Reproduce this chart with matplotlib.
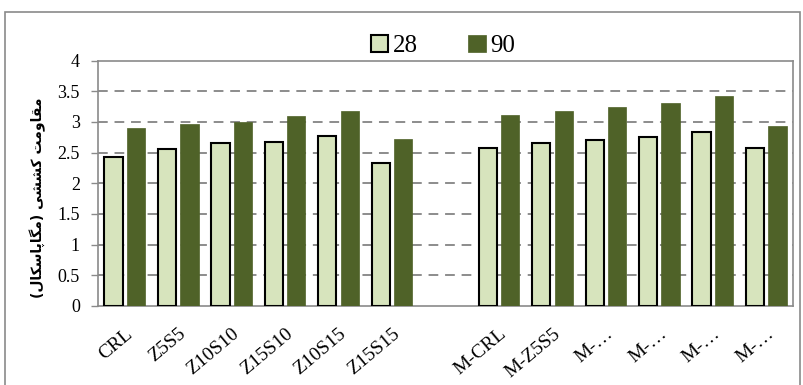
import numpy as np
import matplotlib.pyplot as plt
from matplotlib.patches import Rectangle
from matplotlib.transforms import ScaledTranslation

# tensile strength (MPa) at 28 and 90 days
mixes = ['CRL', 'Z5S5', 'Z10S10', 'Z15S10', 'Z10S15', 'Z15S15',
         'M-CRL', 'M-Z5S5', 'M-…', 'M-…', 'M-…', 'M-…']
day28 = [2.42, 2.55, 2.66, 2.68, 2.77, 2.33, 2.58, 2.66, 2.71, 2.75, 2.83, 2.57]
day90 = [2.90, 2.96, 3.00, 3.10, 3.18, 2.72, 3.11, 3.17, 3.25, 3.31, 3.42, 2.93]
yticks = [0, 0.5, 1, 1.5, 2, 2.5, 3, 3.5, 4]
ylabel_fa = 'مقاومت کششی (مگاپاسکال)'

# --- minimal Persian shaping so the label joins correctly ---
FORMS = {  # isolated, final, initial, medial
    'ا': (0xFE8D, 0xFE8E, None, None),
    'و': (0xFEED, 0xFEEE, None, None),
    'پ': (0xFB56, 0xFB57, 0xFB58, 0xFB59),
    'ت': (0xFE95, 0xFE96, 0xFE97, 0xFE98),
    'س': (0xFEB1, 0xFEB2, 0xFEB3, 0xFEB4),
    'ش': (0xFEB5, 0xFEB6, 0xFEB7, 0xFEB8),
    'ق': (0xFED5, 0xFED6, 0xFED7, 0xFED8),
    'ک': (0xFB8E, 0xFB8F, 0xFB90, 0xFB91),
    'گ': (0xFB92, 0xFB93, 0xFB94, 0xFB95),
    'ل': (0xFEDD, 0xFEDE, 0xFEDF, 0xFEE0),
    'م': (0xFEE1, 0xFEE2, 0xFEE3, 0xFEE4),
    'ی': (0xFBFC, 0xFBFD, 0xFBFE, 0xFBFF),
}


def dual(ch):
    return ch in FORMS and FORMS[ch][2] is not None


def shape_rtl(text):
    out = []
    for i, ch in enumerate(text):
        if ch not in FORMS:
            out.append(ch)
            continue
        prev_j = i > 0 and dual(text[i - 1])
        next_j = dual(ch) and i + 1 < len(text) and text[i + 1] in FORMS
        if prev_j and next_j:
            code = FORMS[ch][3]
        elif prev_j:
            code = FORMS[ch][1]
        elif next_j:
            code = FORMS[ch][2]
        else:
            code = FORMS[ch][0]
        out.append(chr(code))
    vis = ''.join(reversed(out))
    return vis.translate(str.maketrans('()', ')('))


light = '#d7e4bd'
dark = '#4f6228'
grid_c = '#8c8c8c'

x = np.array([i + (1 if i >= 6 else 0) for i in range(len(mixes))])
w = 0.34

fig = plt.figure(figsize=(8.04, 3.85), dpi=100)
ax = fig.add_axes([98 / 804, 1 - 306 / 385, (793 - 98) / 804, (306 - 60.5) / 385])

# outer chart frame
fig.patches.append(Rectangle((5 / 804, -0.05), 795 / 804, 1.05 - 12 / 385,
                             transform=fig.transFigure, fill=False,
                             edgecolor='#8a8a8a', linewidth=1.2))

ax.bar(x - 0.21, day28, w, color=light, edgecolor='black', linewidth=1.5,
       label='28', zorder=3)
ax.bar(x + 0.21, day90, w, color=dark, edgecolor=dark, linewidth=0.5,
       label='90', zorder=3)

ax.set_xlim(-0.5, 12.5)
ax.set_ylim(0, 4)
ax.set_yticks(yticks)
ax.set_yticklabels([f'{v:g}' for v in yticks], fontfamily='Liberation Serif',
                   fontsize=13)
ax.set_xticks(x)
ax.set_xticklabels(mixes, rotation=40, ha='right', rotation_mode='anchor',
                   fontfamily='Liberation Serif', fontsize=14)
shift = ScaledTranslation(6 / 100, 0, fig.dpi_scale_trans)
for lab in ax.get_xticklabels():
    lab.set_transform(lab.get_transform() + shift)
ax.tick_params(axis='x', length=0, pad=14)
ax.tick_params(axis='y', length=5, width=1, color='#8a8a8a', pad=8)

for v in yticks[1:-1]:
    ax.axhline(v, color=grid_c, linestyle=(0, (5, 3.5)), linewidth=1.4,
               zorder=1)

for side in ax.spines.values():
    side.set_color('#8a8a8a')
    side.set_linewidth(1.2)

ax.set_ylabel(shape_rtl(ylabel_fa), fontfamily='DejaVu Sans',
              fontweight='bold', fontsize=10)
ax.yaxis.set_label_coords(-0.075, 0.44)

fig.legend(loc='center', bbox_to_anchor=(443 / 804, 1 - 46 / 385), ncol=2,
           frameon=False, prop={'family': 'Liberation Serif', 'size': 18},
           handlelength=0.7, handleheight=0.7, handletextpad=0.2,
           columnspacing=2.0)

fig.savefig('out.png', dpi=100)
